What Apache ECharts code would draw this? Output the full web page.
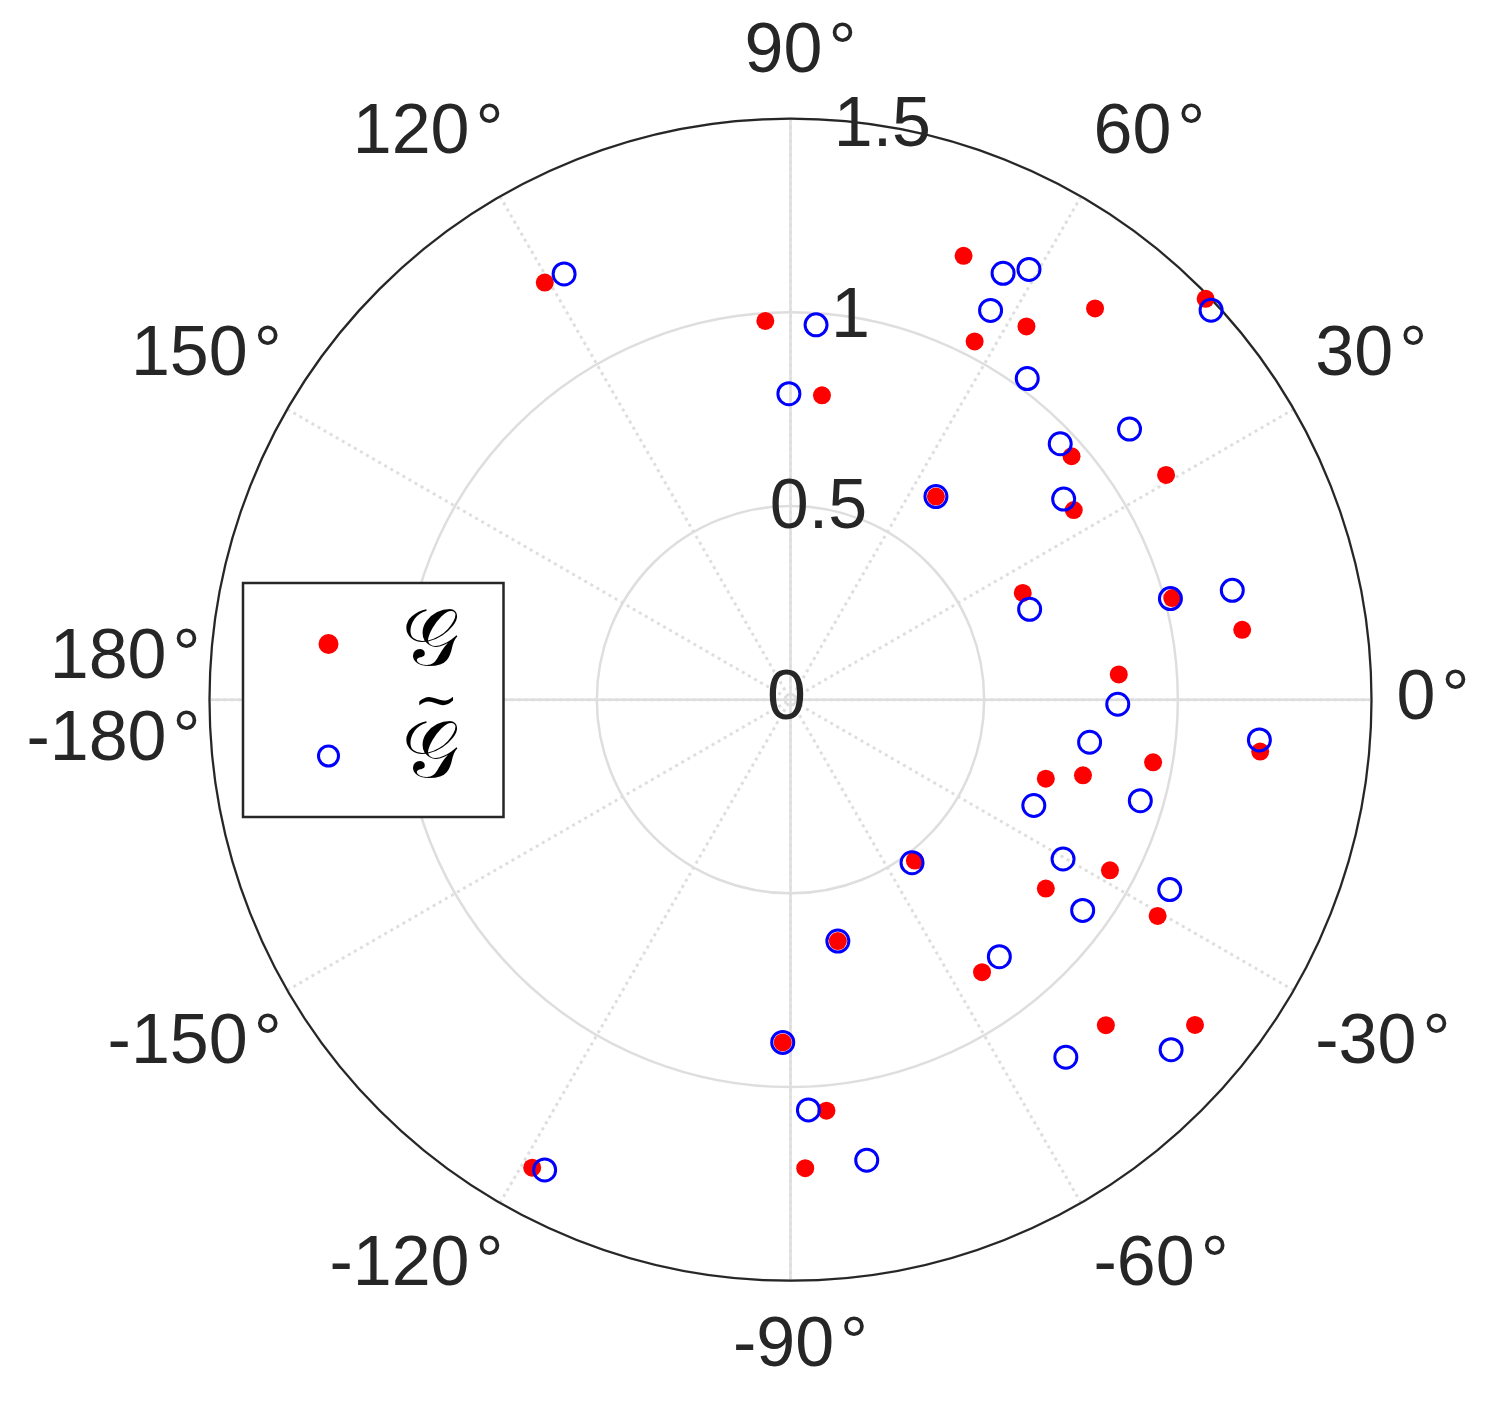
<!DOCTYPE html>
<html>
<head>
	<meta charset="utf-8">
	<title>polar scatter</title>
	<style type="text/css">
		body{
			margin: 0px;
			background: #ffffff;
		}
		.chart{
			width: 1500px;
			height: 1406px;
		}
	</style>
	<script type="text/javascript" src="https://cdn.jsdelivr.net/npm/echarts@6/dist/echarts.min.js"></script>
</head>
<body>
	<div id="chart" class="chart"></div>
	<script type="text/javascript">
		// G : filled red dots, G~ : open blue circles   (radius, angle in degrees)
		var gRadius = [1.25, 0.98, 0.79, 1.23, 1.14, 1.04, 1.28, 1.49, 0.96, 1.13, 0.645, 0.88, 0.66, 1.02, 1.18, 0.85,
			1.22, 0.95, 0.69, 0.78, 0.525, 0.935, 0.82, 1.10, 0.86, 0.635, 1.17, 1.34, 0.885, 1.065, 1.21, 1.38];
		var gAngle = [120.5, 93.8, 84.1, 68.7, 57.7, 62.8, 52.1, 44.0, 40.9, 30.9, 54.4, 33.8, 24.7, 14.9, 8.8, 4.4,
			-6.3, -9.8, -17.2, -14.5, -52.3, -28.1, -36.5, -30.5, -54.9, -78.9, -45.9, -38.8, -91.3, -85.0, -88.2, -118.9];
		var gtRadius = [1.245, 0.97, 0.79, 1.23, 1.27, 1.13, 1.48, 1.03, 1.12, 0.96, 0.645, 0.875, 0.66, 1.015, 1.175, 0.845,
			1.215, 0.78, 0.94, 0.685, 0.525, 0.815, 1.095, 0.93, 0.855, 0.635, 1.165, 1.335, 0.885, 1.06, 1.205, 1.37];
		var gtAngle = [118.0, 86.1, 90.3, 63.5, 61.0, 62.8, 42.8, 53.6, 38.6, 43.5, 54.4, 36.3, 20.7, 14.9, 13.9, -0.8,
			-4.9, -8.1, -16.1, -23.5, -53.3, -30.3, -26.6, -35.8, -50.9, -78.9, -52.4, -42.6, -91.3, -87.5, -80.6, -117.6];

		var seriesNames = ['G', 'Gt'];
		var radiusMax = 1.5, radiusStep = 0.5;
		var angleStep = 30;

		var center = [790.5, 699.7], radius = 581;
		var ink = '#262626', grid = '#dedede';
		var font = '"Liberation Sans", Arial, Helvetica, sans-serif';
		var mathFont = '"DejaVu Serif", "DejaVu Sans", serif';

		function pairs(r, a){
			var out = [];
			for(var i = 0; i < r.length; i++){
				out.push([r[i], a[i]]);
			}
			return out;
		}

		// right side labels are left aligned, left side ones get shifted a bit outwards like matlab
		function angleLabel(v){
			if(v === 180) return '';
			if(v === -180) return '{v|180}{ds|°}\n{v|-180}{ds|°}';
			var c = Math.cos(v * Math.PI / 180);
			var deg = c > 0.3 ? 'd' : (c < -0.3 ? 'ds' : 'dc');
			return '{v|' + v + '}{' + deg + '|°}';
		}

		var labelText = {fontFamily: font, fontSize: 70, color: ink, lineHeight: 82};

		window.onload = function(){
			var chart = echarts.init(document.getElementById('chart'));
			chart.setOption({
				animation: false,
				backgroundColor: '#ffffff',
				polar: [
					{center: center, radius: radius},
					{center: center, radius: radius},
					{center: center, radius: radius}
				],
				angleAxis: [{
					polarIndex: 0,
					type: 'value',
					min: -180,
					max: 180,
					interval: angleStep,
					startAngle: 180,
					clockwise: false,
					axisLine: {lineStyle: {color: ink, width: 2.2}},
					axisTick: {show: false},
					axisLabel: {
						margin: 25,
						formatter: angleLabel,
						rich: {
							v: labelText,
							d: echarts.util.extend({padding: [0, 0, 0, 6]}, labelText),
							ds: echarts.util.extend({padding: [0, -16, 0, 6]}, labelText),
							dc: echarts.util.extend({padding: [0, -20, 0, 6]}, labelText)
						}
					},
					splitLine: {lineStyle: {color: grid, width: 3, type: [3, 4]}}
				}, {
					polarIndex: 1,
					type: 'value',
					min: 0,
					max: 360,
					interval: 90,
					startAngle: 0,
					clockwise: false,
					axisLine: {show: false},
					axisTick: {show: false},
					axisLabel: {show: false},
					splitLine: {lineStyle: {color: grid, width: 2.5, type: 'solid'}}
				}, {
					polarIndex: 2,
					type: 'value',
					min: 0,
					max: 360,
					startAngle: 80.5,
					show: false
				}],
				radiusAxis: [{
					polarIndex: 0,
					type: 'value',
					min: 0,
					max: radiusMax,
					interval: radiusStep,
					axisLine: {show: false},
					axisTick: {show: false},
					axisLabel: {show: false},
					splitLine: {lineStyle: {color: grid, width: 2.5}}
				}, {
					polarIndex: 1,
					type: 'value',
					min: 0,
					max: radiusMax,
					show: false
				}, {
					polarIndex: 2,
					type: 'value',
					min: 0,
					max: radiusMax,
					interval: radiusStep,
					axisLine: {show: false},
					axisTick: {show: false},
					splitLine: {show: false},
					axisLabel: {
						margin: 0,
						align: 'center',
						verticalAlign: 'middle',
						padding: [0, 8, 0, 0],
						fontFamily: font,
						fontSize: 70,
						color: ink
					}
				}],
				legend: {
					orient: 'vertical',
					left: 243,
					top: 583,
					padding: [21, 42, 21, 74],
					itemGap: -7,
					itemWidth: 20,
					itemHeight: 20,
					backgroundColor: '#ffffff',
					borderColor: ink,
					borderWidth: 2.5,
					selectedMode: false,
					itemStyle: {borderWidth: 'inherit'},
					data: [{name: seriesNames[0]}, {name: seriesNames[1], itemStyle: {borderWidth: 3}}],
					formatter: function(name){
						// tilde token is lifted (bottom padding > top padding) and pulled back over the G
						return name === 'G' ? '{g|𝒢}' : '{g|𝒢}{t|∼}';
					},
					textStyle: {
						color: '#000000',
						rich: {
							g: {fontFamily: mathFont, fontSize: 80, lineHeight: 80, width: 60, padding: [0, 0, 0, 58], color: '#000000'},
							t: {fontFamily: mathFont, fontSize: 54, width: 46, align: 'left', padding: [-42, 0, 62, -48], color: '#000000'}
						}
					}
				},
				series: [{
					name: seriesNames[0],
					type: 'scatter',
					coordinateSystem: 'polar',
					polarIndex: 0,
					symbol: 'circle',
					symbolSize: 18,
					z: 3,
					itemStyle: {color: '#ff0000', opacity: 1},
					emphasis: {disabled: true},
					data: pairs(gRadius, gAngle)
				}, {
					name: seriesNames[1],
					type: 'scatter',
					coordinateSystem: 'polar',
					polarIndex: 0,
					symbol: 'circle',
					symbolSize: 22,
					z: 4,
					itemStyle: {color: 'rgba(0,0,0,0)', borderColor: '#0000ff', borderWidth: 3, opacity: 1},
					emphasis: {disabled: true},
					data: pairs(gtRadius, gtAngle)
				}]
			});
		}
	</script>
</body>
</html>
